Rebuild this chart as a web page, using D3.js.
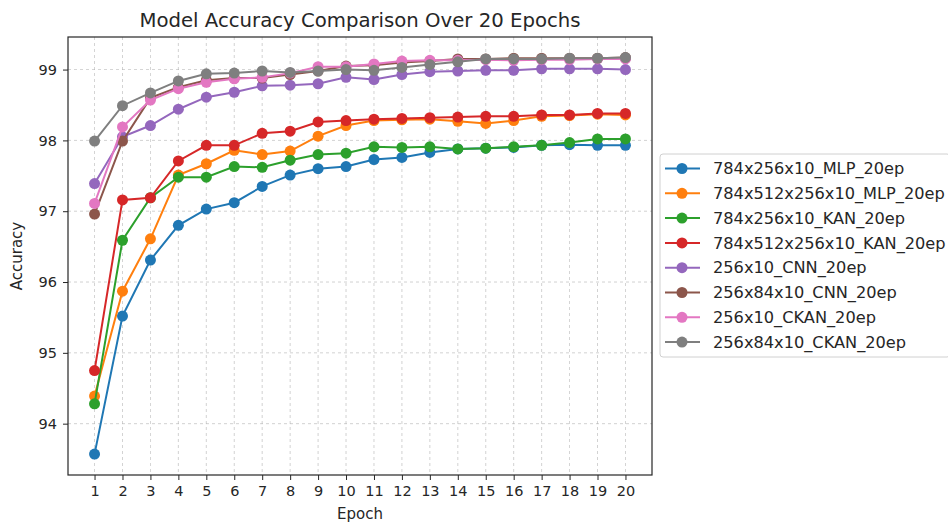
<!DOCTYPE html>
<html>
<head>
<meta charset="utf-8">
<script src="https://cdn.jsdelivr.net/npm/d3@7"></script>
<style>
  html, body { margin: 0; padding: 0; background: #fff; }
  text { font-family: "DejaVu Sans", sans-serif; fill: #262626; }
</style>
</head>
<body>
<svg id="chart" width="948" height="524"></svg>
<script>
const epochs = d3.range(1, 21);
const seriesNames = [
  "784x256x10_MLP_20ep",
  "784x512x256x10_MLP_20ep",
  "784x256x10_KAN_20ep",
  "784x512x256x10_KAN_20ep",
  "256x10_CNN_20ep",
  "256x84x10_CNN_20ep",
  "256x10_CKAN_20ep",
  "256x84x10_CKAN_20ep"
];
const colors = ["#1f77b4", "#ff7f0e", "#2ca02c", "#d62728", "#9467bd", "#8c564b", "#e377c2", "#7f7f7f"];

const mlp256 = [93.57, 95.52, 96.31, 96.80, 97.03, 97.12, 97.35, 97.51, 97.60, 97.63, 97.73, 97.76, 97.83, 97.88, 97.89, 97.90, 97.93, 97.94, 97.93, 97.93];
const mlp512 = [94.39, 95.87, 96.61, 97.51, 97.67, 97.86, 97.80, 97.85, 98.06, 98.21, 98.28, 98.29, 98.30, 98.27, 98.24, 98.28, 98.34, 98.35, 98.37, 98.36];
const kan256 = [94.28, 96.59, 97.19, 97.48, 97.48, 97.63, 97.62, 97.72, 97.80, 97.82, 97.91, 97.90, 97.91, 97.88, 97.89, 97.91, 97.93, 97.97, 98.02, 98.02];
const kan512 = [94.75, 97.16, 97.19, 97.71, 97.93, 97.93, 98.10, 98.13, 98.26, 98.28, 98.30, 98.31, 98.32, 98.33, 98.34, 98.34, 98.36, 98.36, 98.38, 98.38];
const cnn256 = [97.39, 98.05, 98.21, 98.44, 98.61, 98.68, 98.77, 98.78, 98.80, 98.89, 98.86, 98.93, 98.97, 98.98, 98.99, 98.99, 99.01, 99.01, 99.01, 99.00];
const cnn84  = [96.96, 97.99, 98.60, 98.75, 98.85, 98.88, 98.88, 98.93, 98.98, 99.05, 99.06, 99.10, 99.12, 99.15, 99.15, 99.16, 99.16, 99.16, 99.16, 99.17];
const ckan256 = [97.11, 98.19, 98.57, 98.73, 98.82, 98.87, 98.89, 98.95, 99.04, 99.04, 99.08, 99.12, 99.13, 99.13, 99.14, 99.13, 99.14, 99.14, 99.15, 99.15];
const ckan84 = [97.99, 98.49, 98.67, 98.84, 98.94, 98.95, 98.98, 98.96, 98.98, 99.00, 98.99, 99.03, 99.07, 99.11, 99.15, 99.15, 99.15, 99.16, 99.16, 99.17];
const allValues = [mlp256, mlp512, kan256, kan512, cnn256, cnn84, ckan256, ckan84];
const yTicks = [94, 95, 96, 97, 98, 99];

const svg = d3.select("#chart");
const mLeft = 68, mRight = 652, mTop = 37, mBottom = 475;

const x = d3.scaleLinear().domain([0.05, 20.95]).range([mLeft, mRight]);
const y = d3.scaleLinear().domain([93.275, 99.46]).range([mBottom, mTop]);

// grid
const grid = svg.append("g");
grid.selectAll("line.vx").data(epochs).join("line")
  .attr("x1", d => x(d)).attr("x2", d => x(d))
  .attr("y1", mTop).attr("y2", mBottom)
  .attr("stroke", "#b0b0b0").attr("stroke-width", 0.8).attr("stroke-dasharray", "3,3").attr("opacity", 0.7);
grid.selectAll("line.hy").data(yTicks).join("line")
  .attr("x1", mLeft).attr("x2", mRight)
  .attr("y1", d => y(d)).attr("y2", d => y(d))
  .attr("stroke", "#b0b0b0").attr("stroke-width", 0.8).attr("stroke-dasharray", "3,3").attr("opacity", 0.7);

// series
const line = d3.line().x((d, i) => x(epochs[i])).y(d => y(d));
allValues.forEach((vals, si) => {
  const g = svg.append("g");
  g.append("path").datum(vals).attr("d", line)
    .attr("fill", "none").attr("stroke", colors[si]).attr("stroke-width", 2);
  g.selectAll("circle").data(vals).join("circle")
    .attr("cx", (d, i) => x(epochs[i])).attr("cy", d => y(d))
    .attr("r", 5.5).attr("fill", colors[si]);
});

// axes
const xAxis = svg.append("g").attr("transform", `translate(0,${mBottom})`)
  .call(d3.axisBottom(x).tickValues(epochs).tickFormat(d3.format("d")).tickSize(5).tickPadding(6));
const yAxis = svg.append("g").attr("transform", `translate(${mLeft},0)`)
  .call(d3.axisLeft(y).tickValues(yTicks).tickFormat(d3.format("d")).tickSize(5).tickPadding(6));
[xAxis, yAxis].forEach(a => {
  a.select(".domain").remove();
  a.selectAll(".tick line").attr("stroke", "#262626").attr("stroke-width", 1);
  a.selectAll(".tick text").attr("font-size", 14.5).attr("font-family", "DejaVu Sans").attr("fill", "#262626");
});

svg.append("rect").attr("x", mLeft).attr("y", mTop).attr("width", mRight - mLeft).attr("height", mBottom - mTop)
  .attr("fill", "none").attr("stroke", "#262626").attr("stroke-width", 1.2);

// labels
svg.append("text").attr("x", (mLeft + mRight) / 2).attr("y", 27).attr("text-anchor", "middle")
  .attr("font-size", 19.7).text("Model Accuracy Comparison Over 20 Epochs");
svg.append("text").attr("x", (mLeft + mRight) / 2).attr("y", 519).attr("text-anchor", "middle")
  .attr("font-size", 15).text("Epoch");
svg.append("text").attr("transform", `translate(22,${(mTop + mBottom) / 2}) rotate(-90)`).attr("text-anchor", "middle")
  .attr("font-size", 15).text("Accuracy");

// legend
const lg = svg.append("g").attr("transform", "translate(660,154)");
lg.append("rect").attr("x", 0).attr("y", 0).attr("width", 290).attr("height", 203).attr("rx", 3)
  .attr("fill", "#fff").attr("stroke", "#d0d0d0").attr("stroke-width", 1);
seriesNames.forEach((name, i) => {
  const yy = 14.5 + i * 24.8;
  lg.append("line").attr("x1", 5).attr("x2", 40).attr("y1", yy).attr("y2", yy)
    .attr("stroke", colors[i]).attr("stroke-width", 2);
  lg.append("circle").attr("cx", 22).attr("cy", yy).attr("r", 5.5).attr("fill", colors[i]);
  lg.append("text").attr("x", 53).attr("y", yy).attr("dy", "0.35em").attr("font-size", 16.2).text(name);
});
</script>
</body>
</html>
